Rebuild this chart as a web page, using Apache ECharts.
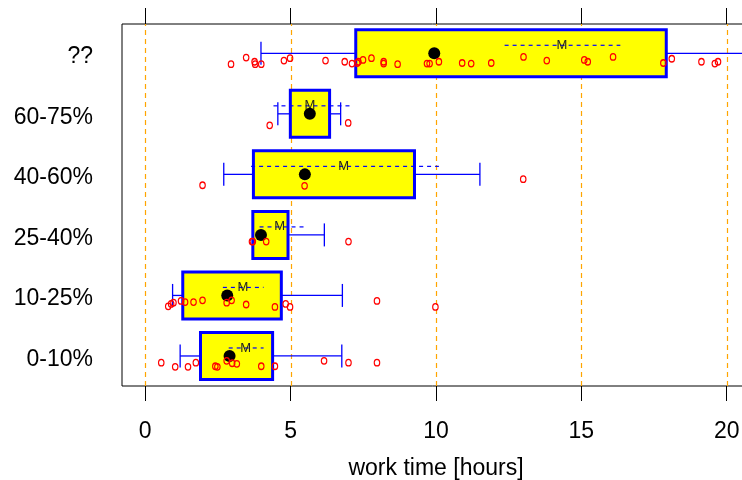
<!DOCTYPE html>
<html><head><meta charset="utf-8">
<script src="https://cdn.jsdelivr.net/npm/echarts@6/dist/echarts.min.js"></script>
<style>html,body{margin:0;padding:0;background:#fff;overflow:hidden}#c{width:742px;height:480px}</style>
</head><body><div id="c"></div>
<script>
// ---- data ----
const categories = ['0-10%', '10-25%', '25-40%', '40-60%', '60-75%', '??'];
const whiskerLow  = [1.20, 0.94, 3.70, 2.70, 4.56, 3.98];
const q1          = [1.90, 1.29, 3.70, 3.72, 4.99, 7.24];
const q3          = [4.38, 4.68, 4.91, 9.26, 6.34, 17.92];
const whiskerHigh = [6.76, 6.78, 6.16, 11.51, 6.72, 21.5];
const dotValue    = [2.90, 2.82, 3.98, 5.49, 5.66, 9.94];
const meanValue   = [3.45, 3.36, 4.62, 6.82, 5.66, 14.33];
const dashLow     = [2.87, 2.67, 3.93, 3.64, 4.41, 12.36];
const dashHigh    = [4.07, 4.07, 5.45, 10.10, 7.03, 16.34];
const xTicks = [0, 5, 10, 15, 20];
const xTitle = 'work time [hours]';

// individual observations: [hours, jittered row value]
const pts0_10 = [[0.55,0.89],[1.03,0.82],[1.47,0.82],[1.74,0.89],[2.41,0.83],[2.48,0.82],[2.80,0.92],[2.99,0.88],[3.15,0.87],[3.99,0.83],[4.46,0.83],[6.15,0.92],[6.99,0.89],[7.97,0.89]];
const pts10_25 = [[0.79,1.82],[0.89,1.86],[0.97,1.88],[1.23,1.91],[1.37,1.89],[1.66,1.89],[1.97,1.92],[2.80,1.88],[2.97,1.92],[3.47,1.85],[4.46,1.81],[4.83,1.86],[4.98,1.81],[7.97,1.91],[9.98,1.81]];
const pts25_40 = [[3.67,2.89],[3.70,2.89],[4.16,2.89],[6.99,2.89]];
const pts40_60 = [[1.97,3.82],[5.48,3.81],[13.0,3.92]];
const pts60_75 = [[4.28,4.81],[6.98,4.85]];
const ptsUnknown = [[2.95,5.82],[3.47,5.93],[3.76,5.86],[3.78,5.82],[3.99,5.82],[4.77,5.88],[4.98,5.92],[6.20,5.88],[6.86,5.86],[7.11,5.83],[7.29,5.84],[7.33,5.86],[7.49,5.89],[7.78,5.92],[8.20,5.86],[8.20,5.83],[8.68,5.82],[9.69,5.83],[9.78,5.83],[10.10,5.86],[10.90,5.84],[11.21,5.83],[11.90,5.84],[13.01,5.94],[13.81,5.88],[15.10,5.89],[15.22,5.86],[16.09,5.94],[17.82,5.84],[18.11,5.91],[19.13,5.86],[19.59,5.83],[19.70,5.86]];

// ---- build ----
const FONT = "'Liberation Sans', Arial, Helvetica, sans-serif";
const boxData = categories.map((c, i) => [i + 1, whiskerLow[i], q1[i], q3[i], whiskerHigh[i], dashLow[i], dashHigh[i], meanValue[i]]);
const allPoints = [].concat(pts0_10, pts10_25, pts25_40, pts40_60, pts60_75, ptsUnknown);
const dots = dotValue.map((v, i) => [v, i + 1]);

const Y_MIN = 0.504, Y_MAX = 6.484;

function renderGrid(params, api) {
  const x = api.value(0);
  const p1 = api.coord([x, Y_MIN]);
  const p2 = api.coord([x, Y_MAX]);
  const px = Math.round(p1[0]) + 0.5;
  return { type: 'line', shape: { x1: px, y1: p1[1], x2: px, y2: p2[1] },
    style: { stroke: '#FFA500', lineWidth: 1.2, lineDash: [5, 4] } };
}

function renderBox(params, api) {
  const y = api.value(0);
  const wl = api.value(1), a = api.value(2), b = api.value(3), wh = api.value(4);
  const dl = api.value(5), dh = api.value(6), m = api.value(7);
  const pA = api.coord([a, y]), pB = api.coord([b, y]);
  const pWL = api.coord([wl, y]), pWH = api.coord([wh, y]);
  const pDL = api.coord([dl, y]), pDH = api.coord([dh, y]), pM = api.coord([m, y]);
  const cy = pA[1];
  const hb = 23.5, hc = 11.5, dy = -8;
  const blue = '#0000FF';
  const wStyle = { stroke: blue, lineWidth: 1.3 };
  return {
    type: 'group',
    children: [
      { type: 'line', shape: { x1: pWL[0], y1: cy, x2: pA[0], y2: cy }, style: wStyle },
      { type: 'line', shape: { x1: pB[0], y1: cy, x2: pWH[0], y2: cy }, style: wStyle },
      { type: 'line', shape: { x1: pWL[0], y1: cy - hc, x2: pWL[0], y2: cy + hc }, style: wStyle },
      { type: 'line', shape: { x1: pWH[0], y1: cy - hc, x2: pWH[0], y2: cy + hc }, style: wStyle },
      { type: 'rect', shape: { x: pA[0], y: cy - hb, width: pB[0] - pA[0], height: 2 * hb },
        style: { fill: '#FFFF00', stroke: blue, lineWidth: 3 } },
      { type: 'line', shape: { x1: pDL[0], y1: cy + dy, x2: pDH[0], y2: cy + dy },
        style: { stroke: blue, lineWidth: 1.2, lineDash: [4, 4] } },
      { type: 'text', x: pM[0], y: cy + dy,
        style: { text: 'M', fill: '#222', font: '13px ' + FONT, align: 'center', verticalAlign: 'middle' } }
    ]
  };
}

const chart = echarts.init(document.getElementById('c'), null, { renderer: 'canvas' });
chart.setOption({
  animation: false,
  backgroundColor: '#fff',
  grid: { left: 122, top: 24, width: 628, height: 362, outerBoundsMode: 'none', containLabel: false,
    show: true, borderColor: '#000', borderWidth: 1, backgroundColor: 'transparent' },
  xAxis: [
    { type: 'value', position: 'bottom', min: -0.8, max: 20.8,
      axisLine: { show: false },
      axisTick: { show: true, customValues: xTicks, length: 15, lineStyle: { color: '#000', width: 1 } },
      axisLabel: { show: true, customValues: xTicks, fontSize: 23, color: '#000', fontFamily: FONT, margin: 34 },
      splitLine: { show: false },
      name: xTitle, nameLocation: 'middle', nameGap: 71,
      nameTextStyle: { fontSize: 23, color: '#000', fontFamily: FONT } },
    { type: 'value', position: 'top', min: -0.8, max: 20.8,
      axisLine: { show: false },
      axisTick: { show: true, customValues: xTicks, length: 16, lineStyle: { color: '#000', width: 1 } },
      axisLabel: { show: false }, splitLine: { show: false } }
  ],
  yAxis: { type: 'value', min: Y_MIN, max: Y_MAX,
    axisLine: { show: false }, axisTick: { show: false }, splitLine: { show: false },
    axisLabel: { show: true, customValues: [1, 2, 3, 4, 5, 6], margin: 29,
      formatter: v => '{c|' + categories[Math.round(v) - 1] + '}',
      rich: { c: { fontSize: 23, color: '#000', fontFamily: FONT, padding: [7, 0, 0, 0] } } } },
  series: [
    { type: 'custom', z: 1, silent: true, clip: true, renderItem: renderGrid, data: xTicks.map(v => [v]), encode: { x: 0 } },
    { type: 'custom', z: 2, silent: true, clip: true, renderItem: renderBox, data: boxData,
      encode: { x: [1, 2, 3, 4], y: 0 } },
    { type: 'scatter', z: 4, silent: true, data: dots, symbol: 'circle', symbolSize: 12, itemStyle: { color: '#000', opacity: 1 } },
    { type: 'scatter', z: 5, silent: true, data: allPoints, symbol: 'circle', symbolSize: [5.5, 6.5],
      itemStyle: { color: 'transparent', borderColor: '#FF0000', borderWidth: 1.2, opacity: 1 } }
  ]
});
</script>
</body></html>
